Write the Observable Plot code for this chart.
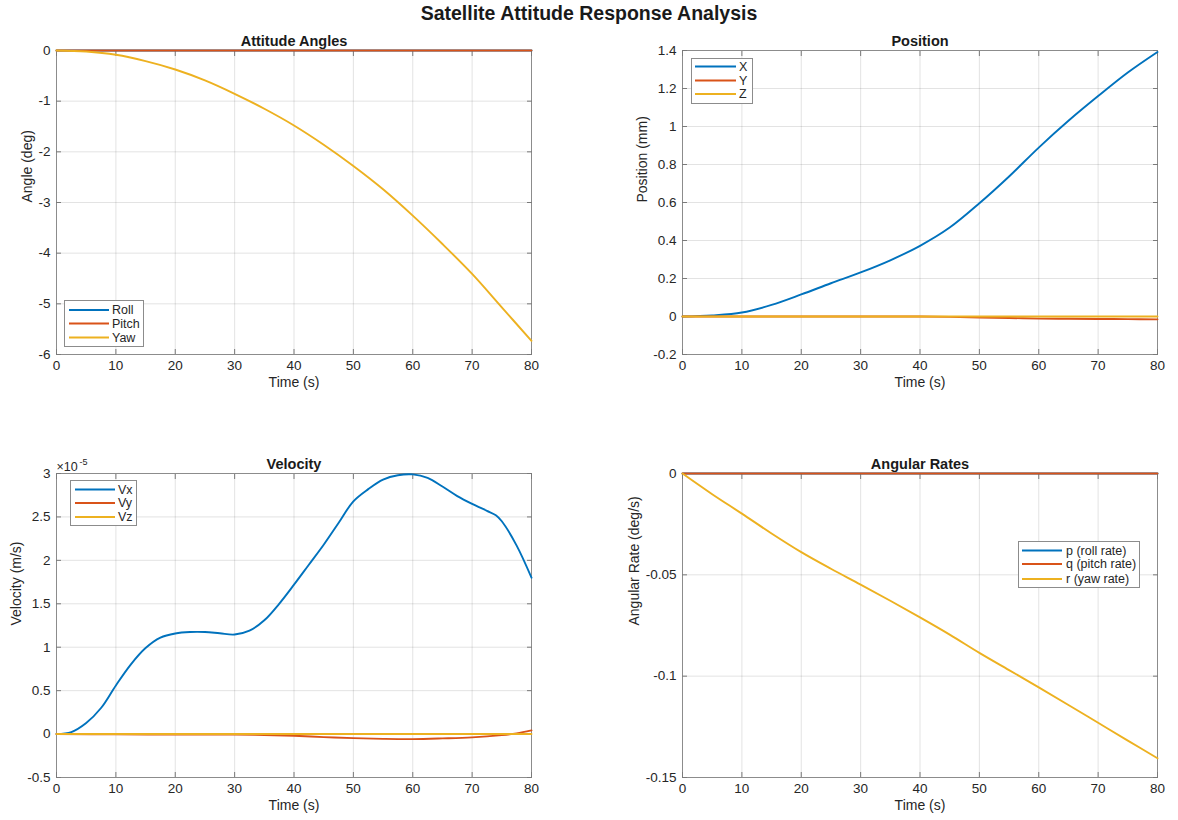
<!DOCTYPE html>
<html>
<head>
<meta charset="utf-8">
<script src="https://cdn.jsdelivr.net/npm/d3@7"></script>
<script src="https://cdn.jsdelivr.net/npm/@observablehq/plot@0.6"></script>
<style>
  html, body { margin: 0; padding: 0; background: #fff; }
  body { font-family: "Liberation Sans", Arial, Helvetica, sans-serif; color: #262626; }
  #fig { position: relative; width: 1178px; height: 820px; overflow: hidden; }
  #title { position: absolute; left: 0; width: 1178px; top: 2px; text-align: center; font-weight: bold; font-size: 19.5px; color: #1a1a1a; }
  .panel { position: absolute; }
  .panel svg { display: block; }
  .legend { position: absolute; }
</style>
</head>
<body>
<div id="fig">
  <div id="title">Satellite Attitude Response Analysis</div>
</div>
<script>
// ---------------- data ----------------
const timeTicks = [0, 10, 20, 30, 40, 50, 60, 70, 80];

// Attitude angles (deg)
const angleTime = [0, 5, 10, 15, 20, 25, 30, 35, 40, 45, 50, 55, 60, 65, 70, 75, 80];
const roll  = [0, 0, 0, 0, 0, 0, 0, 0, 0, 0, 0, 0, 0, 0, 0, 0, 0];
const pitch = [0, 0, 0, 0, 0, 0, 0, 0, 0, 0, 0, 0, 0, 0, 0, 0, 0];
const yaw   = [0, -0.02, -0.085, -0.21, -0.375, -0.59, -0.855, -1.15, -1.48, -1.86, -2.28, -2.74, -3.26, -3.82, -4.41, -5.07, -5.73];
const angleTicks = [-6, -5, -4, -3, -2, -1, 0];

// Position (mm)
const posTime = [0, 5, 10, 15, 20, 25, 30, 35, 40, 45, 50, 55, 60, 65, 70, 75, 80];
const posX = [0, 0.006, 0.021, 0.061, 0.116, 0.175, 0.232, 0.296, 0.372, 0.468, 0.596, 0.737, 0.889, 1.03, 1.16, 1.284, 1.392];
const posY = [0, 0, 0, 0, 0, 0, 0, 0, 0, -0.002, -0.005, -0.008, -0.011, -0.012, -0.013, -0.014, -0.015];
const posZ = [0, 0, 0, 0, 0, 0, 0, 0, 0, 0, 0, 0, 0, 0, 0, 0, 0];
const posTicks = [-0.2, 0, 0.2, 0.4, 0.6, 0.8, 1, 1.2, 1.4];

// Velocity (m/s, in units of 1e-5)
const velTime = [0, 2.5, 5, 7.5, 10, 12.5, 15, 17.5, 20, 22.5, 25, 27.5, 30, 32.5, 35, 37.5, 40, 42.5, 45, 47.5, 50, 52.5, 55, 57.5, 60, 62.5, 65, 67.5, 70, 72.5, 74, 75, 77.5, 80];
const vx = [0, 0.023, 0.127, 0.3, 0.56, 0.8, 0.99, 1.11, 1.158, 1.175, 1.175, 1.16, 1.146, 1.19, 1.31, 1.5, 1.72, 1.95, 2.18, 2.43, 2.68, 2.82, 2.93, 2.98, 2.99, 2.95, 2.85, 2.74, 2.65, 2.57, 2.52, 2.45, 2.17, 1.8];
const vyTime = [0, 10, 20, 30, 35, 40, 45, 50, 55, 60, 65, 70, 75, 77.5, 80];
const vy = [0, -0.003, -0.005, -0.005, -0.01, -0.02, -0.035, -0.047, -0.055, -0.058, -0.05, -0.038, -0.012, 0.008, 0.042];
const vzTime = [0, 20, 40, 60, 80];
const vz = [0, 0, 0, 0, 0];
const velTicks = [-0.5, 0, 0.5, 1, 1.5, 2, 2.5, 3];

// Angular rates (deg/s)
const rateTime = [0, 5, 10, 15, 20, 25, 30, 35, 40, 45, 50, 55, 60, 65, 70, 75, 80];
const rateP = [0, 0, 0, 0, 0, 0, 0, 0, 0, 0, 0, 0, 0, 0, 0, 0, 0];
const rateQ = [0, 0, 0, 0, 0, 0, 0, 0, 0, 0, 0, 0, 0, 0, 0, 0, 0];
const rateR = [0, -0.0102, -0.0198, -0.0296, -0.0388, -0.047, -0.0548, -0.0628, -0.071, -0.0795, -0.0885, -0.097, -0.1055, -0.1142, -0.123, -0.1318, -0.1405];
const rateTicks = [-0.15, -0.1, -0.05, 0];

const colors = ["#0072BD", "#D95319", "#EDB120"];

// ---------------- helpers ----------------
const FONT = "'Liberation Sans', Arial, Helvetica, sans-serif";
const table = (ts, vs) => ts.map((t, i) => ({t, v: vs[i]}));
const fmt = d => String(d);

function panel(cfg) {
  const {left, top, width, height, ml, mr, mt, mb, yDomain, yTicks, title, ylabel, ylabelDx, series, extra = []} = cfg;
  const innerX = timeTicks.slice(1, -1);
  const innerY = yTicks.filter(v => v !== yDomain[0] && v !== yDomain[1]);
  const marks = [
    Plot.gridX(innerX, {stroke: "#262626", strokeOpacity: 0.13}),
    Plot.gridY(innerY, {stroke: "#262626", strokeOpacity: 0.13}),
    Plot.frame({stroke: "#8c8c8c", strokeWidth: 1}),
    // ticks (inward, mirrored)
    Plot.axisX(timeTicks, {anchor: "bottom", tickSize: 5, dy: -5, fill: "none", stroke: "#7a7a7a", label: null}),
    Plot.axisX(timeTicks, {anchor: "top", tickSize: 5, dy: 5, fill: "none", stroke: "#7a7a7a", label: null}),
    Plot.axisY(yTicks, {anchor: "left", tickSize: 5, dx: 5, fill: "none", stroke: "#7a7a7a", label: null}),
    Plot.axisY(yTicks, {anchor: "right", tickSize: 5, dx: -5, fill: "none", stroke: "#7a7a7a", label: null}),
    // tick labels
    Plot.axisX(timeTicks, {anchor: "bottom", tickSize: 0, tickPadding: 6, tickFormat: fmt, label: null, fill: "#262626", fontSize: 13.5}),
    Plot.axisY(yTicks, {anchor: "left", tickSize: 0, tickPadding: 6, tickFormat: fmt, label: null, fill: "#262626", fontSize: 13.5}),
    // data lines
    ...series.map((s, i) => Plot.line(table(s.t, s.v), {x: "t", y: "v", stroke: colors[i], strokeWidth: 1.9, curve: "catmull-rom"})),
    // titles & labels
    Plot.text([title], {frameAnchor: "top", dy: -5, lineAnchor: "bottom", fontWeight: "bold", fontSize: 14.5, fill: "#1a1a1a"}),
    Plot.text(["Time (s)"], {frameAnchor: "bottom", dy: 32, fontSize: 14, fill: "#262626"}),
    Plot.text([ylabel], {frameAnchor: "left", dx: ylabelDx, rotate: -90, fontSize: 14, fill: "#262626"}),
    ...extra
  ];
  const chart = Plot.plot({
    width, height,
    marginLeft: ml, marginRight: mr, marginTop: mt, marginBottom: mb,
    x: {domain: [0, 80]},
    y: {domain: yDomain},
    style: {fontFamily: FONT, fontSize: "13.5px", color: "#262626", background: "transparent", overflow: "visible"},
    marks
  });
  const div = document.createElement("div");
  div.className = "panel";
  div.style.left = left + "px";
  div.style.top = top + "px";
  div.appendChild(chart);
  document.getElementById("fig").appendChild(div);
}

function legend({left, top, width, height, labels, rowY, lineX0, lineX1, textX}) {
  const ns = "http://www.w3.org/2000/svg";
  const svg = document.createElementNS(ns, "svg");
  svg.setAttribute("width", width);
  svg.setAttribute("height", height);
  let html = `<rect x="0.5" y="0.5" width="${width - 1}" height="${height - 1}" fill="#fff" stroke="#8c8c8c" stroke-width="1"/>`;
  labels.forEach((lab, i) => {
    const y = rowY[i];
    html += `<line x1="${lineX0}" x2="${lineX1}" y1="${y}" y2="${y}" stroke="${colors[i]}" stroke-width="2"/>`;
    html += `<text x="${textX}" y="${y}" dy="0.35em" font-family="${FONT.replace(/'/g, "")}" font-size="12.5" fill="#262626">${lab}</text>`;
  });
  svg.innerHTML = html;
  const div = document.createElement("div");
  div.className = "legend";
  div.style.left = left + "px";
  div.style.top = top + "px";
  div.appendChild(svg);
  document.getElementById("fig").appendChild(div);
}

// ---------------- panels ----------------
panel({
  left: 0, top: 0, width: 589, height: 410, ml: 56, mr: 58, mt: 50, mb: 56,
  yDomain: [-6, 0], yTicks: angleTicks, title: "Attitude Angles", ylabel: "Angle (deg)", ylabelDx: -29,
  series: [{t: angleTime, v: roll}, {t: angleTime, v: pitch}, {t: angleTime, v: yaw}]
});
panel({
  left: 589, top: 0, width: 589, height: 410, ml: 93, mr: 21, mt: 50, mb: 56,
  yDomain: [-0.2, 1.4], yTicks: posTicks, title: "Position", ylabel: "Position (mm)", ylabelDx: -40,
  series: [{t: posTime, v: posX}, {t: posTime, v: posY}, {t: posTime, v: posZ}]
});
panel({
  left: 0, top: 410, width: 589, height: 410, ml: 56, mr: 58, mt: 63, mb: 43,
  yDomain: [-0.5, 3], yTicks: velTicks, title: "Velocity", ylabel: "Velocity (m/s)", ylabelDx: -40,
  series: [{t: velTime, v: vx}, {t: vyTime, v: vy}, {t: vzTime, v: vz}],
  extra: [
    Plot.text(["×10"], {frameAnchor: "top-left", textAnchor: "start", lineAnchor: "bottom", dy: -3, dx: 0, fontSize: 12.5, fill: "#262626"}),
    Plot.text(["-5"], {frameAnchor: "top-left", textAnchor: "start", lineAnchor: "bottom", dy: -9, dx: 23, fontSize: 9, fill: "#262626"})
  ]
});
panel({
  left: 589, top: 410, width: 589, height: 410, ml: 93, mr: 21, mt: 63, mb: 43,
  yDomain: [-0.15, 0], yTicks: rateTicks, title: "Angular Rates", ylabel: "Angular Rate (deg/s)", ylabelDx: -48,
  series: [{t: rateTime, v: rateP}, {t: rateTime, v: rateQ}, {t: rateTime, v: rateR}]
});

// ---------------- legends ----------------
legend({left: 64, top: 300, width: 80, height: 47, labels: ["Roll", "Pitch", "Yaw"], rowY: [10, 23.5, 37.5], lineX0: 5, lineX1: 45, textX: 48});
legend({left: 691, top: 58, width: 62, height: 46, labels: ["X", "Y", "Z"], rowY: [8.5, 22.5, 36], lineX0: 4, lineX1: 45, textX: 48});
legend({left: 70, top: 480, width: 67, height: 46, labels: ["Vx", "Vy", "Vz"], rowY: [9.5, 23, 37], lineX0: 5, lineX1: 45, textX: 48});
legend({left: 1018, top: 541, width: 122, height: 47, labels: ["p (roll rate)", "q (pitch rate)", "r (yaw rate)"], rowY: [9.5, 23, 38], lineX0: 4, lineX1: 44, textX: 48});
</script>
</body>
</html>
